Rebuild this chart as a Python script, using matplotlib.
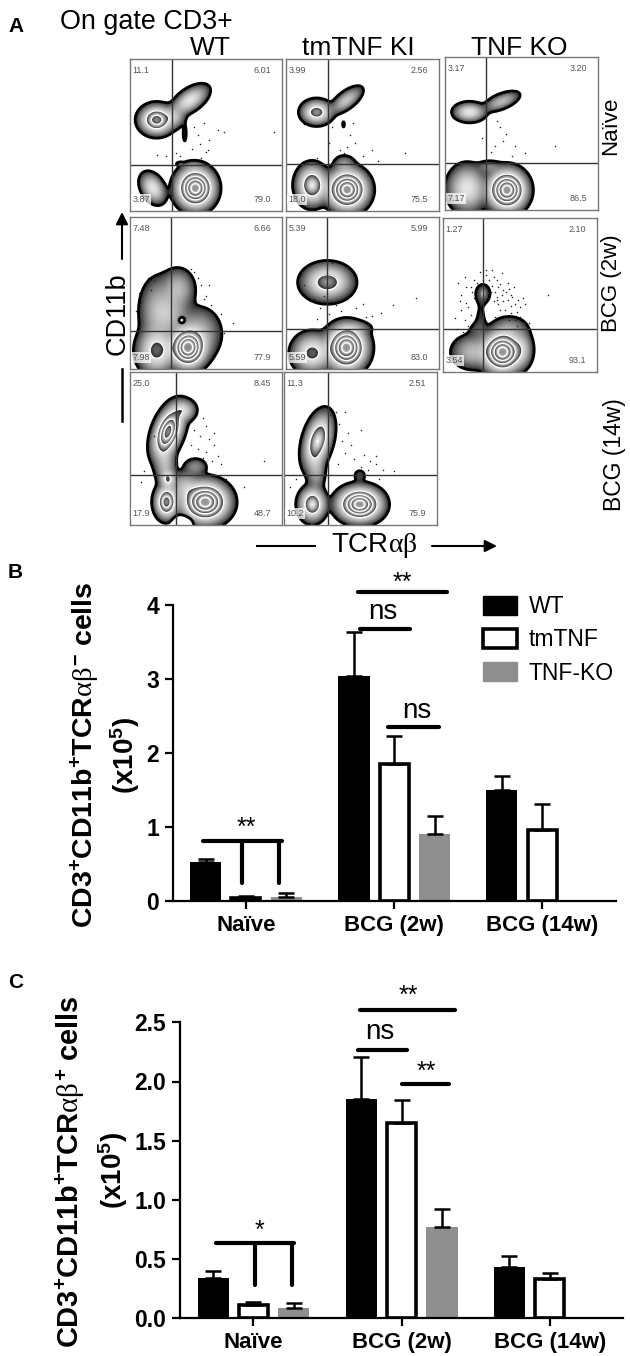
import numpy as np
import matplotlib
matplotlib.use("Agg")
import matplotlib.pyplot as plt
from matplotlib.patches import Patch

plt.rcParams['font.family'] = ['Liberation Sans', 'DejaVu Sans']
plt.rcParams['mathtext.fontset'] = 'custom'
plt.rcParams['mathtext.rm'] = 'Liberation Sans'
plt.rcParams['mathtext.bf'] = 'Liberation Sans:bold'
plt.rcParams['mathtext.it'] = 'Liberation Serif'

W, H = 630, 1356

# ---- flow panels: box in px, quadrant gates, percentages, density blobs, stray events
# blob = fx, fy, sigma x, sigma y, rotation, amplitude (fractions of the panel, y from bottom)
panel_boxes = [(130, 59, 282, 211), (286, 59, 439, 211), (445, 57, 598, 210),
               (130, 217, 282, 369), (286, 217, 439, 369), (443, 218, 597, 372),
               (130, 372, 282, 525), (284, 372, 437, 525)]
gates = [(.275, .30), (.275, .31), (.265, .31),
         (.27, .25), (.265, .26), (.26, .28),
         (.30, .33), (.29, .325)]
percents = [('11.1', '6.01', '3.87', '79.0'), ('3.99', '2.56', '18.0', '75.5'),
            ('3.17', '3.20', '7.17', '86.5'), ('7.48', '6.66', '7.98', '77.9'),
            ('5.39', '5.99', '5.59', '83.0'), ('1.27', '2.10', '3.54', '93.1'),
            ('25.0', '8.45', '17.9', '48.7'), ('11.3', '2.51', '10.2', '75.9')]
spread = [1.2, 1.2, 1.2, 1.2, 1.2, 1.2, 1.0, 1.0]
blobs = [
    [(.175, .60, .042, .036, 0, 5), (.395, .73, .053, .027, 35, 2), (.29, .62, .03, .03, 0, 1),
     (.36, .51, .006, .03, 0, .25), (.15, .15, .028, .042, 30, 2), (.43, .15, .047, .05, 0, 9),
     (.41, .30, .03, .012, 0, .3), (.33, .31, .012, .006, 0, .3)],
    [(.20, .65, .038, .03, 0, 3), (.395, .73, .05, .022, 38, 1.2), (.376, .57, .004, .012, 0, .2),
     (.17, .17, .039, .05, 0, 4), (.40, .14, .05, .05, 0, 9), (.38, .31, .03, .025, 0, .5)],
    [(.16, .64, .04, .024, 0, 2), (.37, .71, .05, .02, 22, 1), (.145, .14, .05, .06, 0, 2),
     (.405, .13, .048, .05, 0, 9), (.29, .28, .035, .02, 0, .4)],
    [(.38, .14, .045, .05, 0, 9), (.175, .12, .05, .06, 0, 2.5), (.185, .38, .05, .09, 0, 1),
     (.315, .525, .045, .055, 0, 1), (.27, .36, .05, .06, 0, .8), (.45, .23, .06, .07, 0, 1),
     (.34, .32, .012, .012, 0, -1.2)],
    [(.27, .57, .062, .046, 0, 3), (.17, .105, .05, .05, 0, 2.5), (.395, .14, .05, .055, 0, 9),
     (.45, .27, .05, .02, 0, .4)],
    [(.387, .13, .05, .05, 0, 9), (.19, .13, .055, .045, 0, 1), (.43, .28, .05, .035, 0, .6),
     (.51, .15, .03, .05, 0, 1), (.245, .34, .022, .08, 0, .13), (.22, .27, .03, .03, 0, .16),
     (.26, .51, .026, .033, 0, .28), (.26, .51, .006, .012, 0, 1.2)],
    [(.25, .61, .08, .04, 70, 7), (.35, .75, .04, .035, 0, 1.5), (.23, .40, .035, .07, 0, 1),
     (.25, .30, .025, .03, 0, 2), (.24, .15, .035, .05, 0, 5), (.495, .15, .07, .06, 0, 9),
     (.36, .25, .05, .05, 0, 1), (.43, .38, .04, .03, 0, .5), (.35, .02, .03, .02, 0, -3)],
    [(.22, .55, .085, .04, 75, 4), (.21, .36, .03, .07, 0, .8), (.185, .135, .04, .05, 0, 4),
     (.495, .135, .065, .05, 0, 9), (.495, .325, .025, .025, 0, .2)],
]
events = [
    [(.42, .55), (.45, .50), (.49, .58), (.52, .47), (.46, .44), (.51, .40), (.41, .41), (.58, .53),
     (.62, .52), (.95, .52), (.18, .37), (.24, .36), (.30, .38), (.33, .36), (.47, .35), (.50, .39)],
    [(.12, .57), (.30, .55), (.42, .50), (.45, .45), (.40, .42), (.38, .38), (.50, .36), (.78, .38),
     (.44, .58), (.28, .45), (.35, .40), (.56, .40), (.60, .33), (.20, .35)],
    [(.05, .60), (.34, .58), (.36, .54), (.40, .50), (.38, .45), (.46, .42), (.52, .37), (.72, .42),
     (.33, .42), (.44, .35), (.30, .38), (.24, .47)],
    [(.12, .60), (.16, .58), (.19, .62), (.22, .64), (.10, .55), (.06, .50), (.40, .66), (.42, .64),
     (.45, .60), (.47, .55), (.50, .48), (.53, .42), (.55, .37), (.60, .36), (.68, .30), (.04, .38),
     (.52, .55), (.49, .46), (.62, .24), (.07, .44), (.14, .52), (.58, .30)],
    [(.10, .62), (.12, .55), (.18, .46), (.22, .40), (.28, .36), (.33, .42), (.36, .38), (.40, .34),
     (.46, .40), (.50, .43), (.56, .35), (.62, .37), (.70, .42), (.85, .47), (.20, .33), (.46, .62),
     (.30, .70), (.25, .48), (.40, .46), (.52, .34)],
    [(.10, .58), (.14, .62), (.18, .55), (.20, .60), (.24, .65), (.28, .63), (.32, .66), (.35, .60),
     (.38, .64), (.42, .58), (.46, .55), (.34, .52), (.38, .50), (.42, .47), (.47, .44), (.50, .42),
     (.36, .44), (.40, .40), (.44, .38), (.50, .36), (.15, .45), (.12, .40), (.18, .37), (.08, .35),
     (.20, .48), (.16, .30), (.13, .26), (.10, .22), (.32, .56), (.37, .57), (.44, .50), (.52, .48),
     (.68, .50), (.48, .30), (.56, .32), (.12, .50), (.23, .42), (.30, .60), (.35, .47), (.41, .52),
     (.33, .62), (.36, .55), (.39, .53), (.43, .54), (.45, .49), (.35, .49), (.39, .46), (.44, .43),
     (.48, .39), (.41, .36), (.37, .40), (.33, .46), (.47, .34), (.11, .46), (.16, .42), (.19, .52),
     (.09, .28), (.14, .34), (.17, .28), (.31, .52), (.49, .47), (.53, .44), (.28, .66), (.26, .60),
     (.15, .55), (.22, .58), (.34, .36), (.38, .35), (.43, .34), (.51, .33)],
    [(.44, .75), (.48, .70), (.50, .65), (.42, .62), (.46, .58), (.52, .56), (.40, .52), (.45, .50),
     (.50, .48), (.55, .52), (.58, .45), (.60, .40), (.48, .44), (.54, .42), (.88, .42), (.16, .58),
     (.09, .35), (.07, .28), (.63, .30), (.75, .25), (.55, .60)],
    [(.30, .72), (.34, .74), (.40, .74), (.36, .66), (.42, .60), (.50, .62), (.38, .55), (.44, .52),
     (.40, .47), (.46, .43), (.52, .46), (.56, .42), (.60, .40), (.65, .36), (.72, .35), (.35, .40),
     (.50, .38), (.62, .30), (.08, .30), (.04, .25), (.60, .45), (.55, .36)],
]

# ---- bar panels
groups = ['Naïve', 'BCG (2w)', 'BCG (14w)']
wt_b = [0.53, 3.04, 1.50]
wt_b_err = [0.04, 0.59, 0.19]
tm_b = [0.04, 1.85, 0.95]
tm_b_err = [0.03, 0.38, 0.36]
ko_b = [0.05, 0.90]
ko_b_err = [0.05, 0.24]

wt_c = [0.34, 1.85, 0.43]
wt_c_err = [0.06, 0.36, 0.10]
tm_c = [0.11, 1.65, 0.33]
tm_c_err = [0.03, 0.19, 0.05]
ko_c = [0.09, 0.77]
ko_c_err = [0.04, 0.15]

group_pos = [0, 3.68, 7.35]
GREY = '#8f8f8f'


def px_axes(x0, y0, x1, y1, **kw):
    return fig.add_axes([x0 / W, 1 - y1 / H, (x1 - x0) / W, (y1 - y0) / H], **kw)


def flow_panel(box, gate, pct, blob_list, dots, grow):
    ax = px_axes(*box)
    gx, gy = np.meshgrid(np.linspace(0, 1, 400), np.linspace(0, 1, 400))
    f = np.zeros_like(gx)
    for cx, cy, sx, sy, rot, amp in blob_list:
        t = np.radians(rot)
        u = (gx - cx) * np.cos(t) + (gy - cy) * np.sin(t)
        v = -(gx - cx) * np.sin(t) + (gy - cy) * np.cos(t)
        f += amp * np.exp(-0.5 * (u / (sx * grow)) ** 2 - 0.5 * (v / (sy * grow)) ** 2)
    levels = [0.1, 2, 4, 6, 8]
    band = np.interp(np.log(np.clip(f, 1e-6, None)), np.log(levels + [14]), range(6))
    shade = 0.12 + 0.78 * (band % 1)
    shade[band >= 4] = 0.1 + 0.6 * (5 - band[band >= 4])
    ax.imshow(np.ma.masked_where(f < 0.1, shade), origin='lower', extent=(0, 1, 0, 1),
              cmap='gray', vmin=0, vmax=1, aspect='auto', interpolation='bilinear')
    ax.contour(gx, gy, f, levels=[0.1], colors='k', linewidths=2.0)
    ax.contour(gx, gy, f, levels=levels[1:], colors='w', linewidths=0.9)
    ex, ey = zip(*dots)
    ax.scatter(ex, ey, s=1.2, c='#222222', linewidths=0)
    ax.axvline(gate[0], color='#333333', lw=1)
    ax.axhline(gate[1], color='#333333', lw=1)
    ax.set_xlim(0, 1)
    ax.set_ylim(0, 1)
    ax.set_xticks([])
    ax.set_yticks([])
    for s in ax.spines.values():
        s.set_color('#777777')
        s.set_linewidth(1)
    kw = dict(transform=ax.transAxes, fontsize=6.5, color='#555555', va='center')
    ax.text(.015, .925, pct[0], ha='left', **kw)
    ax.text(.93, .925, pct[1], ha='right', **kw)
    # the reference has a pale patch behind the lower left number
    ax.text(.015, .075, pct[2], ha='left',
            bbox=dict(facecolor='w', alpha=0.75, edgecolor='none', pad=1), **kw)
    ax.text(.93, .075, pct[3], ha='right', **kw)


def bar_panel(box, xlim, ylim, yticks, ticklabels, wt, wte, tm, tme, ko, koe):
    ax = px_axes(*box)
    ax.patch.set_alpha(0)
    off = [-1, 0, 1]
    cap = dict(capsize=6, ecolor='k', error_kw=dict(elinewidth=1.8, capthick=1.8))
    ax.bar([p + off[0] for p in group_pos], wt, 0.77, color='k', yerr=[[0] * 3, wte], label='WT', **cap)
    ax.bar([p + off[1] for p in group_pos], tm, 0.72, color='w', edgecolor='k', linewidth=2.6,
           yerr=[[0] * 3, tme], **cap)
    ax.bar([p + off[2] for p in group_pos[:2]], ko, 0.77, color=GREY, yerr=[[0] * 2, koe], **cap)
    ax.set_xlim(*xlim)
    ax.set_ylim(*ylim)
    ax.spines['top'].set_visible(False)
    ax.spines['right'].set_visible(False)
    ax.spines['left'].set_linewidth(1.6)
    ax.spines['bottom'].set_linewidth(1.6)
    ax.set_xticks(group_pos)
    ax.set_xticklabels(groups, fontsize=16, fontweight='bold')
    ax.set_yticks(yticks)
    ax.set_yticklabels(ticklabels, fontsize=16.5, fontweight='bold')
    ax.tick_params(length=6, width=1.6, pad=4)
    return ax


def sig_line(ax, x0, x1, y, label=None, tx=None, ty=None, size=18, drops=(), bottom=None):
    ax.plot([x0, x1], [y, y], color='k', lw=3, solid_capstyle='round', clip_on=False)
    for d in drops:
        ax.plot([d, d], [y, bottom], color='k', lw=3, solid_capstyle='round', clip_on=False)
    if label:
        ax.text(tx, ty, label, ha='center', va='center', fontsize=size, clip_on=False)


fig = plt.figure(figsize=(W / 100, H / 100), dpi=100)
back = fig.add_axes([0, 0, 1, 1], zorder=-1)
back.set_xlim(0, W)
back.set_ylim(H, 0)
back.axis('off')

back.text(8, 27, 'A', fontsize=15, fontweight='bold', va='center')
back.text(8, 572, 'B', fontsize=15, fontweight='bold', va='center')
back.text(8, 983, 'C', fontsize=15, fontweight='bold', va='center')
back.text(60, 22, 'On gate CD3+', fontsize=19.4, va='center')
for cx, name in zip([210, 358.6, 519.5], ['WT', 'tmTNF KI', 'TNF KO']):
    back.text(cx, 48, name, fontsize=19, ha='center', va='center')
for x, y, size, name in zip([611, 611, 615], [126, 283, 455], [16, 16, 16.5], ['Naïve', 'BCG (2w)', 'BCG (14w)']):
    back.text(x, y, name, fontsize=size, rotation=90, ha='center', va='center')
back.text(118, 314, 'CD11b', fontsize=19.5, rotation=90, ha='center', va='center')
back.annotate('', xy=(122, 212), xytext=(122, 259),
              arrowprops=dict(arrowstyle='-|>', color='k', lw=1.5, shrinkA=0, shrinkB=0, mutation_scale=18))
back.plot([122, 122], [369, 421], color='k', lw=1.8)
back.text(374, 546, r'TCR$\alpha\beta$', fontsize=20, ha='center', va='center')
back.plot([257, 315], [546, 546], color='k', lw=1.5)
back.annotate('', xy=(497, 546), xytext=(432, 546),
              arrowprops=dict(arrowstyle='-|>', color='k', lw=1.5, shrinkA=0, shrinkB=0, mutation_scale=18))

for i in range(8):
    flow_panel(panel_boxes[i], gates[i], percents[i], blobs[i], events[i], spread[i])

# panel B
ax_b = bar_panel((173, 605, 616, 900.7), (-1.81, 9.18), (0, 4), [0, 1, 2, 3, 4], ['0', '1', '2', '3', '4'],
                 wt_b, wt_b_err, tm_b, tm_b_err, ko_b, ko_b_err)
sig_line(ax_b, 2.77, 4.98, 4.17, '**', 3.87, 4.30)
sig_line(ax_b, 2.83, 4.08, 3.67, 'ns', 3.40, 3.90, size=20)
sig_line(ax_b, 3.53, 4.78, 2.35, 'ns', 4.25, 2.56, size=20)
sig_line(ax_b, -1.07, 0.90, 0.81, '**', 0.02, 0.99, drops=(-0.10, 0.82), bottom=0.24)
ax_b.legend(handles=[Patch(facecolor='k', edgecolor='k', label='WT'),
                     Patch(facecolor='w', edgecolor='k', linewidth=2.6, label='tmTNF'),
                     Patch(facecolor=GREY, edgecolor=GREY, label='TNF-KO')],
            loc='upper left', bbox_to_anchor=(0.70, 1.034), frameon=False, fontsize=16.5,
            handlelength=1.5, handleheight=0.9, labelspacing=0.45, handletextpad=0.5,
            borderpad=0, borderaxespad=0)
back.text(85, 755, r'$\mathbf{CD3^{+}CD11b^{+}TCR}\alpha\beta^{\mathbf{-}}\ \mathbf{cells}$',
          fontsize=20.5, rotation=90, ha='center', va='center')
back.text(125, 755, r'$\mathbf{(x10^{5})}$', fontsize=20, rotation=90, ha='center', va='center')

# panel C
ax_c = bar_panel((180, 1022.3, 623, 1318.3), (-1.82, 9.17), (0, 2.5), [0, .5, 1, 1.5, 2, 2.5],
                 ['0.0', '0.5', '1.0', '1.5', '2.0', '2.5'],
                 wt_c, wt_c_err, tm_c, tm_c_err, ko_c, ko_c_err)
sig_line(ax_c, 2.65, 5.00, 2.60, '**', 3.85, 2.72)
sig_line(ax_c, 2.59, 3.82, 2.27, 'ns', 3.14, 2.42, size=20)
sig_line(ax_c, 3.69, 4.85, 1.98, '**', 4.30, 2.08)
sig_line(ax_c, -0.93, 1.02, 0.634, '*', 0.15, 0.74, drops=(0.03, 0.95), bottom=0.28)
back.text(70, 1172, r'$\mathbf{CD3^{+}CD11b^{+}TCR}\alpha\beta^{\mathbf{+}}\ \mathbf{cells}$',
          fontsize=20.9, rotation=90, ha='center', va='center')
back.text(113, 1170, r'$\mathbf{(x10^{5})}$', fontsize=20, rotation=90, ha='center', va='center')

fig.savefig('out.png', dpi=100)
